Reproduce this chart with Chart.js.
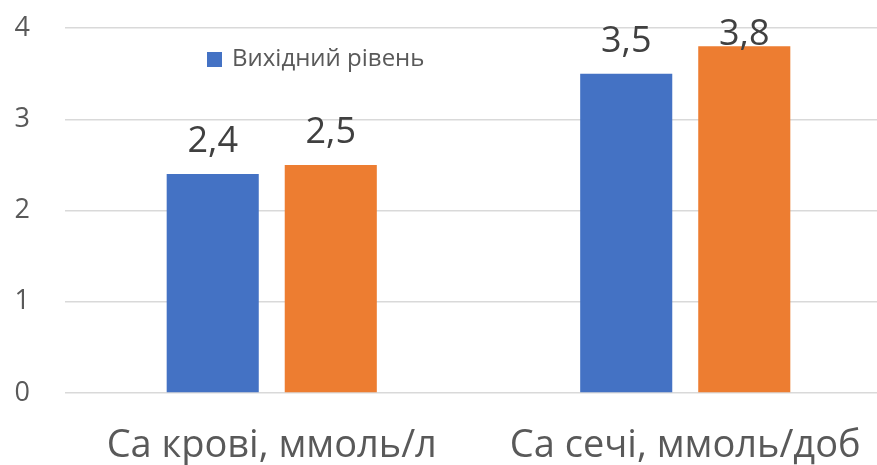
<!DOCTYPE html>
<html>
<head>
<meta charset="utf-8">
<script src="https://cdn.jsdelivr.net/npm/chart.js@4.4.0/dist/chart.umd.min.js"></script>
<style>
  html, body { margin: 0; padding: 0; background: #fff; overflow: hidden; }
  #wrap { width: 892px; height: 465px; }
</style>
</head>
<body>
<div id="wrap"><canvas id="myCanvas"></canvas></div>
<script>
'use strict';

const categories = ['Са крові, ммоль/л', 'Са сечі, ммоль/доб'];
const baseLabel = 'Вихідний рівень';
const baseValues = [2.4, 3.5];
const afterLabel = 'Після лікування';
const afterValues = [2.5, 3.8];
const yTicks = [0, 1, 2, 3, 4];

const fontName = '"Open Sans", Roboto, sans-serif';

// value labels above each bar, decimal comma like the original
const valueLabels = {
  id: 'valueLabels',
  afterDatasetsDraw(chart) {
    const ctx = chart.ctx;
    ctx.save();
    ctx.font = '36px ' + fontName;
    ctx.fillStyle = '#404040';
    ctx.textAlign = 'center';
    ctx.textBaseline = 'alphabetic';
    chart.data.datasets.forEach((ds, i) => {
      chart.getDatasetMeta(i).data.forEach((bar, j) => {
        let y = Math.max(bar.y - 22, 45);
        ctx.fillText(String(ds.data[j]).replace('.', ','), bar.x, y);
      });
    });
    ctx.restore();
  }
};

// legend drawn inside the plot, only first series shows in the original
const innerLegend = {
  id: 'innerLegend',
  afterDraw(chart) {
    const ctx = chart.ctx;
    const ds = chart.data.datasets[0];
    ctx.save();
    ctx.fillStyle = ds.backgroundColor;
    ctx.fillRect(207, 52, 15, 15);
    ctx.font = '24px ' + fontName;
    ctx.fillStyle = '#595959';
    ctx.textBaseline = 'middle';
    ctx.fillText(ds.label, 232, 59);
    ctx.restore();
  }
};

const data = {
  labels: categories,
  datasets: [{
    label: baseLabel,
    data: baseValues,
    backgroundColor: '#4472C4',
    barPercentage: 0.78,
    categoryPercentage: 0.571
  },
  {
    label: afterLabel,
    data: afterValues,
    backgroundColor: '#ED7D31',
    barPercentage: 0.78,
    categoryPercentage: 0.571
  }]
};

const config = {
  type: 'bar',
  data: data,
  options: {
    responsive: true,
    maintainAspectRatio: false,
    animation: false,
    layout: { padding: { top: 28, right: 0, left: 0, bottom: 0 } },
    plugins: {
      legend: { display: false },
      tooltip: { enabled: false }
    },
    scales: {
      x: {
        grid: { display: false },
        border: { display: false },
        ticks: {
          color: '#595959',
          font: { family: fontName, size: 38 },
          padding: 22,
          maxRotation: 0
        },
        afterFit(scale) {
          scale.height = 72;
          scale.paddingLeft = 0;
          scale.paddingRight = 0;
        }
      },
      y: {
        min: 0,
        max: 4,
        afterBuildTicks(scale) { scale.ticks = yTicks.map(v => ({ value: v })); },
        grid: { color: '#d9d9d9', lineWidth: 1.5, drawTicks: false },
        border: { display: false },
        ticks: {
          color: '#595959',
          font: { family: fontName, size: 27 },
          padding: 35
        },
        afterFit(scale) {
          scale.width = 65;
          scale.paddingTop = 0;
          scale.paddingBottom = 0;
        }
      }
    }
  },
  plugins: [valueLabels, innerLegend]
};

new Chart(document.getElementById('myCanvas'), config);
</script>
</body>
</html>
